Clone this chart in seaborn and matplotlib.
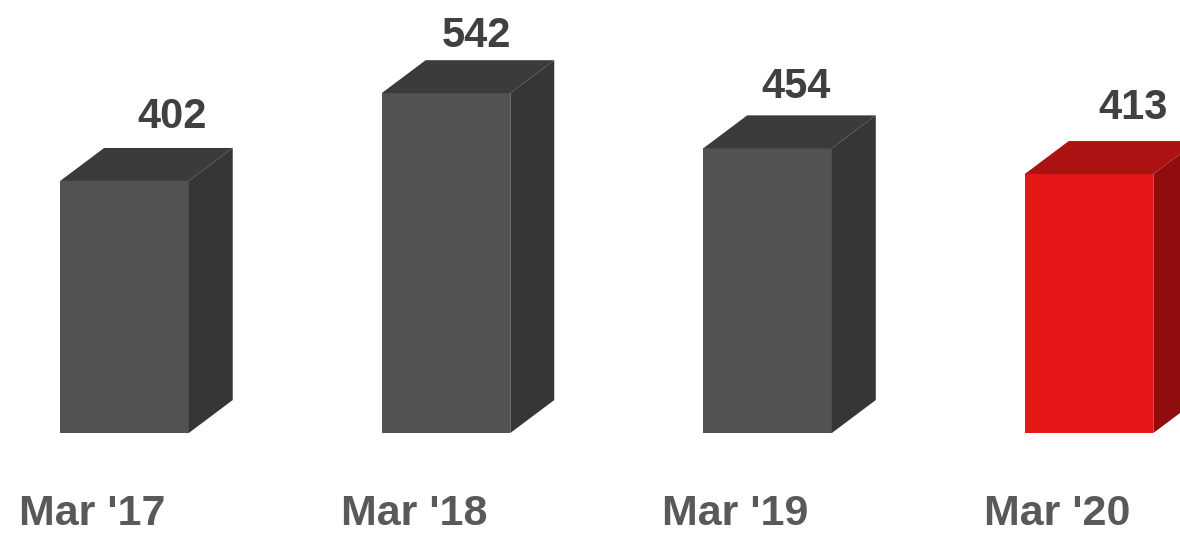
import matplotlib
matplotlib.use("Agg")
import matplotlib.pyplot as plt
import seaborn as sns
import pandas as pd
from matplotlib.patches import Polygon
from matplotlib.transforms import ScaledTranslation

categories = ["Mar '17", "Mar '18", "Mar '19", "Mar '20"]
values = [402, 542, 454, 413]
front_colors = ["#525252", "#525252", "#525252", "#e81717"]
side_colors = ["#363636", "#363636", "#363636", "#900d0d"]
top_colors = ["#3b3b3b", "#3b3b3b", "#3b3b3b", "#ab1212"]
label_dx_px = [48, 30, 29, 44]
label_dy_px = [53, 46, 50, 55]

sns.set_theme(style="white")
plt.rcParams['font.family'] = ['Liberation Sans', 'DejaVu Sans']

df = pd.DataFrame({"cat": categories, "val": values})

fig = plt.figure(figsize=(11.8, 5.34), dpi=100)
ax = fig.add_axes([0, 0, 1, 1])
sns.barplot(data=df, x="cat", y="val", hue="cat", palette=front_colors,
            width=0.4, legend=False, ax=ax, saturation=1, linewidth=0,
            edgecolor="none")

ax.set_xlim(-0.387, 3.283)
ax.set_ylim(-161, 690.6)
ax.axis("off")

dx_px, dy_px = 44, 33

for i, p in enumerate(ax.patches[:len(values)]):
    p.set_linewidth(0)
    x0 = p.get_x()
    w = p.get_width()
    h = p.get_height()
    x1 = x0 + w
    to_disp = ax.transData.transform
    br = to_disp((x1, 0))
    tl = to_disp((x0, h)); tr = to_disp((x1, h))
    sh = lambda pt: (pt[0] + dx_px, pt[1] + dy_px)
    side = Polygon([br, tr, sh(tr), sh(br)], closed=True, transform=None,
                   facecolor=side_colors[i], edgecolor="none", zorder=1)
    top = Polygon([tl, tr, sh(tr), sh(tl)], closed=True, transform=None,
                  facecolor=top_colors[i], edgecolor="none", zorder=1)
    fig.add_artist(side)
    fig.add_artist(top)
    p.set_zorder(2)
    lx = x0 + w / 2
    label_tr = ax.transData + ScaledTranslation(label_dx_px[i] / 100, label_dy_px[i] / 100,
                                                fig.dpi_scale_trans)
    ax.text(lx, h, f"{values[i]}", transform=label_tr, ha="center", va="baseline",
            fontsize=30, fontweight="bold", color="#404040")
    cat_tr = ax.transData + ScaledTranslation(-32 / 100, 0, fig.dpi_scale_trans)
    ax.text(lx, -129, categories[i], transform=cat_tr, ha="center", va="center",
            fontsize=31, fontweight="bold", color="#595959")

fig.savefig("out.png", dpi=100)
